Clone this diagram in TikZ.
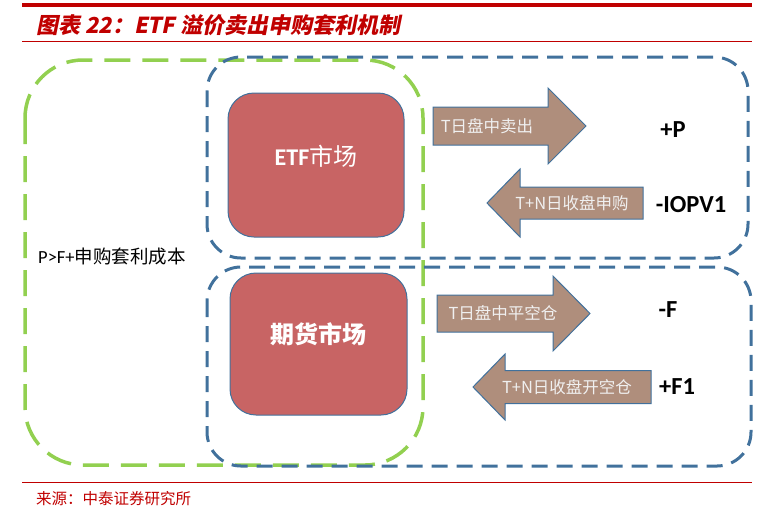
\documentclass[tikz,border=0pt]{standalone}
\usepackage{fontspec}
\setmainfont{Carlito}
\newfontfamily\cjk{Noto Sans CJK SC}
\newfontfamily\cjkslant{Noto Sans CJK SC}[FakeSlant=0.2]
\definecolor{titlered}{HTML}{C00000}
\definecolor{frameblue}{HTML}{41719C}
\definecolor{framegreen}{HTML}{92D050}
\definecolor{marketred}{HTML}{C86464}
\definecolor{arrowbrown}{HTML}{AF8E7C}

\begin{document}
\begin{tikzpicture}[x=1pt, y=-1pt,
    greenframe/.style={draw=framegreen, line width=3.5pt, dash pattern=on 26pt off 12pt, rounded corners=58pt},
    blueframe/.style={draw=frameblue, line width=3pt, dash pattern=on 16pt off 9pt, rounded corners=34pt},
    market/.style={draw=frameblue, fill=marketred, line width=1pt, rounded corners=26pt},
    markettext/.style={text=white, font=\bfseries\fontsize{24}{26}\selectfont},
    arrowbox/.style={draw=frameblue, fill=arrowbrown, line width=1pt},
    arrowtext/.style={text=white!94!black, font=\cjk\fontsize{16.5}{19}\selectfont},
    value/.style={font=\bfseries\fontsize{24.5}{26}\selectfont}]
  \useasboundingbox (0,0) rectangle (762,507);
  % title and rules
  \draw[titlered, line width=3.5pt] (22,5) -- (752,5);
  \draw[titlered, line width=1pt] (22,41) -- (752,41);
  \draw[titlered, line width=1pt] (22,482) -- (752,482);
  \node[anchor=west, inner sep=0pt, text=titlered, font=\cjkslant\bfseries\fontsize{22}{24}\selectfont] (title) at (36,25) {图表 22：ETF 溢价卖出申购套利机制};
  \node[anchor=west, inner sep=0pt, text=titlered, font=\cjk\fontsize{15.5}{17}\selectfont] (source) at (36,499) {来源：中泰证券研究所};
  % frames
  \draw[greenframe] (25,60) rectangle (423,465);
  \draw[blueframe] (207,57) rectangle (748,258);
  \draw[blueframe] (207,267) rectangle (751,466);
  \node[anchor=west, inner sep=0pt, font=\fontsize{18.5}{20}\selectfont] (cond) at (38,257) {P>F+{\cjk 申购套利成本}};
  % markets
  \node[market, minimum width=176pt, minimum height=144pt] (etf) at (316,165) {};
  \node[market, minimum width=177pt, minimum height=142pt] (fut) at (318.5,344) {};
  \node[markettext] (etftext) at ([yshift=9pt]etf.center) {ETF{\cjk\mdseries 市场}};
  \node[markettext, font=\cjk\bfseries\fontsize{24}{26}\selectfont] (futtext) at ([yshift=10pt]fut.center) {期货市场};
  % arrows
  \draw[arrowbox] (433,107) -- (548,107) -- (548,88) -- (586,126) -- (548,164) -- (548,145) -- (433,145) -- cycle;
  \draw[arrowbox] (643,187) -- (520,187) -- (520,169) -- (487,203) -- (520,237) -- (520,219) -- (643,219) -- cycle;
  \draw[arrowbox] (437,295) -- (553,295) -- (553,276) -- (590,313.5) -- (553,351) -- (553,332) -- (437,332) -- cycle;
  \draw[arrowbox] (651,370.5) -- (505,370.5) -- (505,354) -- (473,387) -- (505,420) -- (505,403.5) -- (651,403.5) -- cycle;
  \node[arrowtext] (sell) at (487,126) {T日盘中卖出};
  \node[arrowtext] (buy) at (572,203) {T+N日收盘申购};
  \node[arrowtext] (close) at (503,313) {T日盘中平空仓};
  \node[arrowtext] (open) at (567,387) {T+N日收盘开空仓};
  % values
  \node[value] (p) at (673,130) {+P};
  \node[value] (iopv) at (691,205) {-IOPV1};
  \node[value] (f) at (668,310) {-F};
  \node[value] (fone) at (677,387) {+F1};
\end{tikzpicture}
\end{document}
